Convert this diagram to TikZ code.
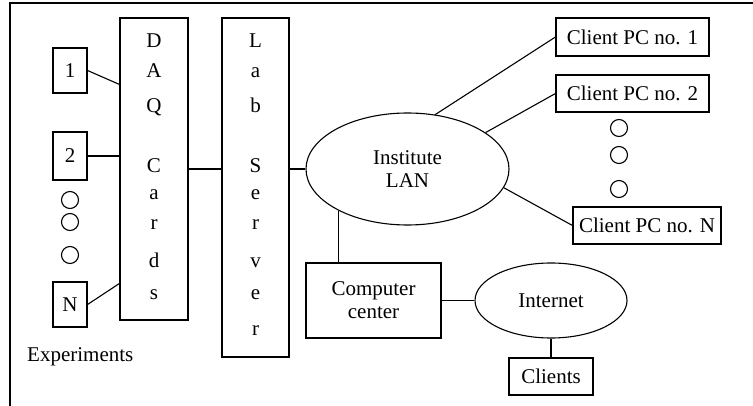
\documentclass[tikz,border=0pt]{standalone}
\usepackage{fontspec}
\setmainfont{Liberation Serif}
\usetikzlibrary{shapes.geometric}
\begin{document}
\begin{tikzpicture}[x=1pt,y=-1pt,
  every node/.style={font=\fontsize{21}{23}\selectfont, inner sep=0pt},
  conn/.style={draw, line width=1.1pt},
  boxn/.style={draw, line width=1.1pt, rectangle, align=center},
  ell/.style={draw, line width=1.1pt, ellipse, align=center},
  dot/.style={draw, line width=1.1pt, circle, minimum size=17pt},
  letter/.style={anchor=base}]
\useasboundingbox (0,0) rectangle (753,406);
\draw[line width=1.1pt] (10,406) -- (10,3) -- (753,3);
% experiments
\node[boxn, minimum width=34pt, minimum height=45pt] (e1) at (70,70.5) {1};
\node[boxn, minimum width=34pt, minimum height=48pt] (e2) at (70,156) {2};
\node[boxn, minimum width=34pt, minimum height=45pt] (eN) at (70,304.5) {N};
\node[dot] (d1) at (70,200) {};
\node[dot] (d2) at (70,222) {};
\node[dot] (d3) at (70,255) {};
\node[anchor=base west] (exp) at (27,362) {Experiments};
% DAQ
\node[boxn, minimum width=68pt, minimum height=302pt] (daq) at (154,169) {};
\foreach \c/\yy [count=\i] in {D/48,A/78,Q/113,C/173,a/200,r/230,d/268,s/300}
  \node[letter] (daql\i) at (154,\yy) {\c};
% Lab server
\node[boxn, minimum width=67pt, minimum height=339pt] (lab) at (255.5,187.5) {};
\foreach \c/\yy [count=\i] in {L/48,a/78,b/113,S/173,e/200,r/230,v/268,e/300,r/335}
  \node[letter] (labl\i) at (255.5,\yy) {\c};
% LAN
\node[ell, minimum width=203pt, minimum height=112pt] (lan) at (407.5,169) {Institute\\LAN};
% clients
\node[boxn, minimum width=153pt, minimum height=38pt] (pc1) at (632.5,37) {Client PC no. 1};
\node[boxn, minimum width=153pt, minimum height=37pt] (pc2) at (632.5,93.5) {Client PC no. 2};
\node[boxn, minimum width=148pt, minimum height=37pt] (pcN) at (647,225.5) {Client PC no. N};
\node[dot] (c1) at (619,128) {};
\node[dot] (c2) at (619,155) {};
\node[dot] (c3) at (619,189) {};
% computer center & internet
\node[boxn, minimum width=135pt, minimum height=75pt] (cc) at (373.5,300.5) {Computer\\center};
\node[ell, minimum width=152pt, minimum height=75pt] (inet) at (551,300.5) {Internet};
\node[boxn, minimum width=84pt, minimum height=37pt] (cl) at (551,376.5) {Clients};
% connectors
\draw[conn] (e1.east) -- ([yshift=-67pt]daq.north west);
\draw[conn] (e2.east) -- (e2.east -| daq.west);
\draw[conn] (eN.east) -- ([yshift=-266pt]daq.north west);
\draw[conn] (daq.east) -- (daq.east -| lab.west);
\draw[conn] (lan.west -| lab.east) -- (lan.west);
\draw[conn] (lan.63) -- (pc1.west);
\draw[conn] (lan.25.5) -- (pc2.west);
\draw[conn] (lan.-11.8) -- (pcN.west);
\draw[conn] (lan.211.8) -- (lan.211.8 |- cc.north);
\draw[conn] (cc.east) -- (inet.west);
\draw[conn] (inet.south) -- (cl.north);
\end{tikzpicture}
\end{document}
